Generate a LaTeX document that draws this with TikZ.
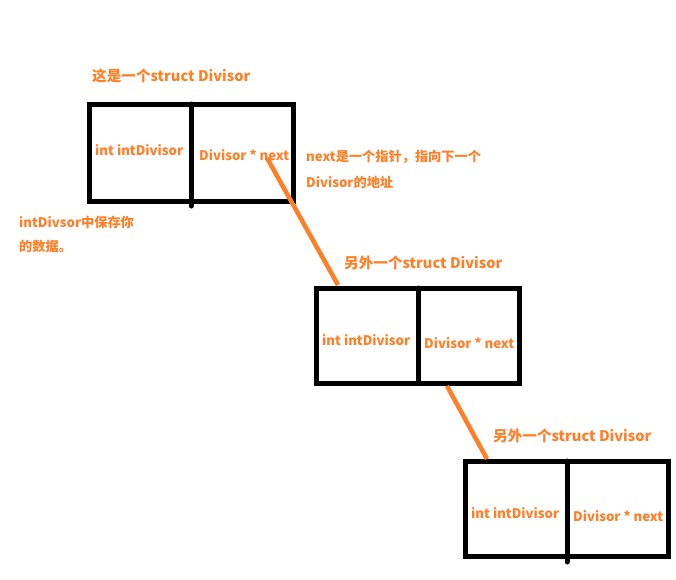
\documentclass[tikz,border=0pt]{standalone}
\usepackage{fontspec}
\newfontfamily\cjk{Noto Sans CJK SC}
\definecolor{lab}{HTML}{FF7F27}
\begin{document}
\begin{tikzpicture}[x=1pt,y=-1pt,line cap=round,line join=round,
	lbl/.style={anchor=west,inner sep=0pt,text=lab,font=\cjk\bfseries\fontsize{13.2}{15}\selectfont},
	ttl/.style={lbl,font=\cjk\bfseries\fontsize{14.6}{17}\selectfont},
	cell/.style={draw,line width=5pt,line join=miter},
	link/.style={draw=lab,line width=4.5pt,line cap=butt}]
	\useasboundingbox (0,0) rectangle (676,579);
	% first struct
	\draw[cell] (89,104) rectangle (293,201);
	\draw[cell] (191,104)--(191,206);
	\node[ttl] (t1) at (92,76) {这是一个struct Divisor};
	\node[lbl] (a1) at (95,150) {int intDivisor};
	\node[lbl] (n1) at (199,155) {Divisor * next};
	\node[lbl] (c1) at (306,157) {next是一个指针，指向下一个};
	\node[lbl] (c2) at (306,182) {Divisor的地址};
	\node[lbl] (c3) at (19,222) {intDivsor中保存你};
	\node[lbl] (c4) at (19,247) {的数据。};
	% second struct
	\draw[cell] (316,288) rectangle (519,383);
	\draw[cell] (418,288)--(418,383);
	\node[ttl] (t2) at (344,263) {另外一个struct Divisor};
	\node[lbl] (a2) at (322,340) {int intDivisor};
	\node[lbl] (n2) at (424,343) {Divisor * next};
	% third struct
	\draw[cell] (465,461) rectangle (668,556);
	\draw[cell] (567,461)--(567,562);
	\node[ttl] (t3) at (493,436) {另外一个struct Divisor};
	\node[lbl] (a3) at (471,513) {int intDivisor};
	\node[lbl] (n3) at (573,516) {Divisor * next};
	% pointers
	\coordinate (p1) at (267,158);
	\coordinate (q1) at (338,285);
	\coordinate (p2) at (447,386);
	\coordinate (q2) at (487,459);
	\draw[link] (p1)--(q1);
	\draw[link] (p2)--(q2);
\end{tikzpicture}
\end{document}
